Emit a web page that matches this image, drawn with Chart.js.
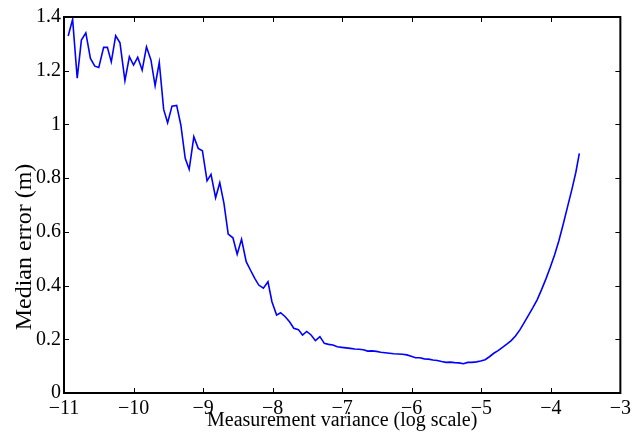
<!DOCTYPE html>
<html>
<head>
<meta charset="utf-8">
<script src="https://cdn.jsdelivr.net/npm/chart.js@4.4.0/dist/chart.umd.min.js"></script>
<style>
    html, body { margin: 0; padding: 0; background: #fff; }
    #wrap { width: 635px; height: 432px; position: relative; }
</style>
</head>
<body>
<div id="wrap"><canvas id="errorChart"></canvas></div>
<script>
// Log10 of the measurement variance
const logVariance = [
    -10.94, -10.876, -10.81, -10.75, -10.686, -10.62, -10.557, -10.5, -10.43, -10.376,
    -10.32, -10.257, -10.195, -10.124, -10.06, -10.0, -9.94, -9.876, -9.814, -9.75,
    -9.69, -9.63, -9.567, -9.51, -9.447, -9.38, -9.32, -9.257, -9.2, -9.133,
    -9.07, -9.01, -8.943, -8.886, -8.82, -8.76, -8.7, -8.639, -8.571, -8.51,
    -8.447, -8.38, -8.32, -8.257, -8.2, -8.133, -8.067, -8.01, -7.943, -7.886,
    -7.819, -7.757, -7.696, -7.629, -7.57, -7.51, -7.447, -7.385, -7.32, -7.257,
    -7.195, -7.133, -7.07, -7.008, -6.945, -6.883, -6.82, -6.758, -6.695, -6.633,
    -6.57, -6.508, -6.445, -6.383, -6.32, -6.258, -6.195, -6.133, -6.07, -6.008,
    -5.945, -5.883, -5.82, -5.758, -5.695, -5.633, -5.57, -5.508, -5.445, -5.383,
    -5.32, -5.258, -5.195, -5.133, -5.07, -5.008, -4.945, -4.883, -4.82, -4.758,
    -4.695, -4.633, -4.57, -4.508, -4.445, -4.383, -4.32, -4.258, -4.195, -4.133,
    -4.07, -4.008, -3.945, -3.883, -3.82, -3.758, -3.695, -3.64, -3.59
];

// Median error (m)
const medianError = [
    1.329, 1.391, 1.172, 1.314, 1.341, 1.246, 1.217, 1.212, 1.287, 1.287,
    1.233, 1.330, 1.304, 1.163, 1.252, 1.221, 1.250, 1.202, 1.289, 1.240,
    1.144, 1.231, 1.056, 1.006, 1.068, 1.071, 0.998, 0.874, 0.833, 0.954,
    0.911, 0.902, 0.790, 0.814, 0.727, 0.783, 0.706, 0.592, 0.578, 0.517,
    0.572, 0.489, 0.458, 0.427, 0.402, 0.390, 0.414, 0.340, 0.290, 0.299,
    0.284, 0.265, 0.241, 0.236, 0.216, 0.229, 0.216, 0.195, 0.210, 0.185,
    0.181, 0.179, 0.172, 0.170, 0.168, 0.166, 0.164, 0.163, 0.161, 0.156,
    0.157, 0.155, 0.152, 0.150, 0.148, 0.146, 0.145, 0.144, 0.142, 0.137,
    0.131, 0.131, 0.127, 0.126, 0.123, 0.121, 0.117, 0.114, 0.115, 0.113,
    0.112, 0.109, 0.114, 0.114, 0.116, 0.119, 0.124, 0.135, 0.148, 0.158,
    0.170, 0.182, 0.195, 0.212, 0.235, 0.262, 0.290, 0.318, 0.348, 0.385,
    0.425, 0.468, 0.515, 0.568, 0.630, 0.695, 0.760, 0.822, 0.892
];

// Tick positions
const xTicks = [-11, -10, -9, -8, -7, -6, -5, -4, -3];
const yTicks = [0, 0.2, 0.4, 0.6, 0.8, 1, 1.2, 1.4];

const xTitle = 'Measurement variance (log scale)';
const yTitle = 'Median error (m)';

const serif = 'Liberation Serif, Times New Roman, serif';

// Box around the axes with inward ticks on all four sides
const boxTicks = {
    id: 'boxTicks',
    afterDatasetsDraw(chart) {
        const { ctx, chartArea: a, scales: { x, y } } = chart;
        ctx.save();
        ctx.strokeStyle = '#000';
        ctx.lineWidth = 1;
        ctx.beginPath();
        xTicks.forEach(v => {
            const px = Math.round(x.getPixelForValue(v)) + 0.5;
            ctx.moveTo(px, a.bottom); ctx.lineTo(px, a.bottom - 5);
            ctx.moveTo(px, a.top); ctx.lineTo(px, a.top + 5);
        });
        yTicks.forEach(v => {
            const py = Math.round(y.getPixelForValue(v)) + 0.5;
            ctx.moveTo(a.left, py); ctx.lineTo(a.left + 5, py);
            ctx.moveTo(a.right, py); ctx.lineTo(a.right - 5, py);
        });
        ctx.stroke();
        ctx.lineWidth = 2;
        ctx.strokeRect(a.left, a.top, a.right - a.left, a.bottom - a.top);
        ctx.restore();
    }
};

// Y axis label, drawn a bit below the axis centre as in the original figure
const yLabel = {
    id: 'yLabel',
    afterDraw(chart) {
        const { ctx, chartArea: a } = chart;
        ctx.save();
        ctx.translate(25, (a.top + a.bottom) / 2 + 42);
        ctx.rotate(-Math.PI / 2);
        ctx.fillStyle = '#000';
        ctx.font = '24px ' + serif;
        ctx.textAlign = 'center';
        ctx.textBaseline = 'middle';
        ctx.fillText(yTitle, 0, 0);
        ctx.restore();
    }
};

const ctx = document.getElementById('errorChart').getContext('2d');

new Chart(ctx, {
    type: 'line',
    data: {
        datasets: [{
            data: logVariance.map((v, i) => ({ x: v, y: medianError[i] })),
            borderColor: '#0000ff',
            borderWidth: 1.6,
            pointRadius: 0,
            tension: 0,
            fill: false
        }]
    },
    options: {
        responsive: true,
        maintainAspectRatio: false,
        animation: false,
        layout: { padding: { top: 17, right: 11, left: 0, bottom: 0 } },
        plugins: {
            legend: { display: false },
            tooltip: { enabled: false }
        },
        scales: {
            x: {
                type: 'linear',
                min: -11,
                max: -3,
                afterBuildTicks: s => { s.ticks = xTicks.map(v => ({ value: v })); },
                afterFit: s => { s.height = 39; },
                grid: { display: false, drawTicks: false },
                border: { display: false },
                ticks: {
                    color: '#000',
                    font: { family: serif, size: 20 },
                    padding: 4,
                    maxRotation: 0,
                    autoSkip: false,
                    callback: v => String(v).replace('-', '\u2212')
                },
                title: {
                    display: true,
                    text: xTitle,
                    color: '#000',
                    font: { family: serif, size: 20, lineHeight: 1 },
                    padding: { top: 0, bottom: 1 }
                }
            },
            y: {
                min: 0,
                max: 1.4,
                afterBuildTicks: s => { s.ticks = yTicks.map(v => ({ value: v })); },
                afterFit: s => { s.width = 64; },
                grid: { display: false, drawTicks: false },
                border: { display: false },
                ticks: {
                    color: '#000',
                    font: { family: serif, size: 20 },
                    padding: 3,
                    callback: v => String(Math.round(v * 10) / 10)
                },
                title: { display: false }
            }
        }
    },
    plugins: [boxTicks, yLabel]
});
</script>
</body>
</html>
